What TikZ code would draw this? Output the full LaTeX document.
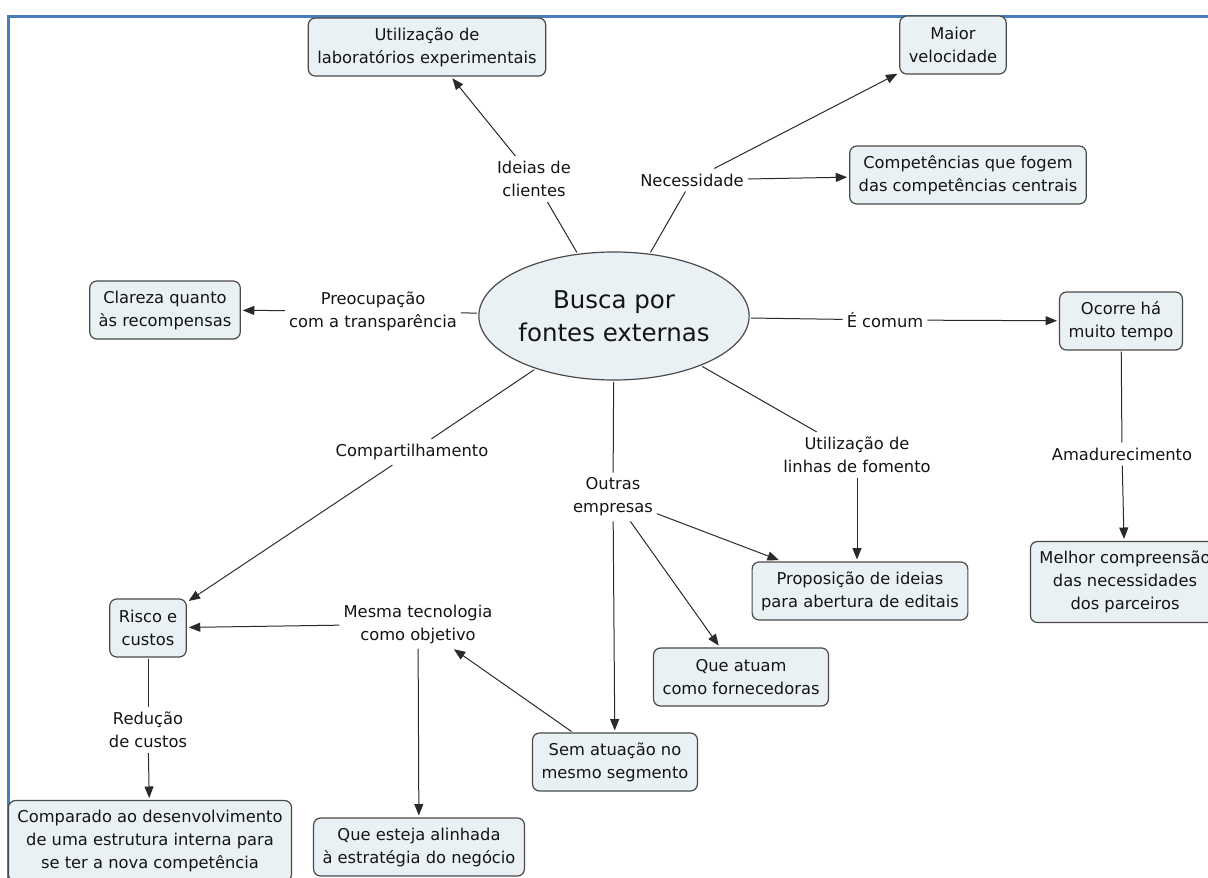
\documentclass[tikz,border=0pt]{standalone}
\usepackage{fontspec}
\setmainfont{DejaVu Sans}
\usetikzlibrary{shapes.geometric,arrows.meta}
\definecolor{framec}{HTML}{4A7EBB}
\definecolor{boxfill}{HTML}{EAF1F5}
\definecolor{boxline}{HTML}{4A4A4A}
\definecolor{linec}{HTML}{2A2A2A}
\definecolor{txt}{HTML}{141414}

\begin{document}
\begin{tikzpicture}[x=1pt,y=-1pt,
  concept/.style={draw=boxline, fill=boxfill, line width=1.2pt, rounded corners=7pt,
    align=center, text=txt, font=\fontsize{16.3}{23}\selectfont,
    inner xsep=9pt, inner ysep=0pt, minimum height=58pt, outer sep=1.5pt},
  tall/.style={minimum height=81pt},
  linklbl/.style={align=center, text=txt, font=\fontsize{16.3}{23}\selectfont,
    inner xsep=4pt, inner ysep=5pt},
  conn/.style={draw=linec, line width=1pt},
  arr/.style={conn, -{Triangle[length=11.5pt,width=9pt]}, shorten >=1pt},
]
\useasboundingbox (0,0) rectangle (1208,878);
\clip (0,0) rectangle (1208,878);

% page frame
\draw[framec, line width=3pt] (8,878) -- (8,16) -- (1208,16);

% central concept
\node[draw=boxline, fill=boxfill, line width=1.2pt, ellipse, minimum width=235pt,
  minimum height=128pt, inner sep=0pt, outer sep=2pt, align=center, text=txt,
  font=\fontsize{24.5}{33}\selectfont] (ell) at (614,316) {Busca por\\fontes externas};

% concepts
\node[concept] (lab)  at (427,47)  {Utilização de\\laboratórios experimentais};
\node[concept] (vel)  at (953,45)  {Maior\\velocidade};
\node[concept] (comp) at (968,175) {Competências que fogem\\das competências centrais};
\node[concept] (clar) at (165,310) {Clareza quanto\\às recompensas};
\node[concept] (ocor) at (1121,321) {Ocorre há\\muito tempo};
\node[concept, tall] (melh) at (1125,582) {Melhor compreensão\\das necessidades\\dos parceiros};
\node[concept] (prop) at (860,591) {Proposição de ideias\\para abertura de editais};
\node[concept] (forn) at (741,677) {Que atuam\\como fornecedoras};
\node[concept] (sem)  at (615,762) {Sem atuação no\\mesmo segmento};
\node[concept] (alin) at (419,847) {Que esteja alinhada\\à estratégia do negócio};
\node[concept] (risc) at (148,628) {Risco e\\custos};
\node[concept, tall] (cmpd) at (150,841) {Comparado ao desenvolvimento\\de uma estrutura interna para\\se ter a nova competência};

% linking phrases
\node[linklbl] (lIde) at (534,179) {Ideias de\\clientes};
\node[linklbl] (lNec) at (692,180) {Necessidade};
\node[linklbl] (lPre) at (373,311) {Preocupação\\com a transparência};
\node[linklbl] (lCom) at (885,320) {É comum};
\node[linklbl] (lCmp) at (412,452) {Compartilhamento};
\node[linklbl] (lOut) at (613,497) {Outras\\empresas};
\node[linklbl] (lUti) at (857,455) {Utilização de\\linhas de fomento};
\node[linklbl] (lAma) at (1122,454) {Amadurecimento};
\node[linklbl] (lMes) at (418,624) {Mesma tecnologia\\como objetivo};
\node[linklbl] (lRed) at (148,730) {Redução\\de custos};

% connections
\draw[conn] (ell) -- (lIde);
\draw[arr]  (lIde) -- (lab);
\draw[conn] (ell) -- (lNec);
\draw[arr]  (lNec) -- (vel);
\draw[arr]  (lNec) -- (comp);
\draw[conn] (ell) -- (lPre);
\draw[arr]  (lPre) -- (clar);
\draw[conn] (ell) -- (lCom);
\draw[arr]  (lCom) -- (ocor);
\draw[conn] (ocor) -- (lAma);
\draw[arr]  (lAma) -- (melh);
\draw[conn] (ell) -- (lCmp);
\draw[arr]  (lCmp) -- (risc);
\draw[conn] (ell) -- (lOut);
\draw[arr]  (lOut) -- (prop);
\draw[arr]  (lOut) -- (forn);
\draw[arr]  (lOut) -- (sem);
\draw[conn] (ell) -- (lUti);
\draw[arr]  (lUti) -- (lUti |- prop.north);
\draw[arr]  (sem) -- (lMes);
\draw[arr]  (lMes) -- (risc);
\draw[arr]  (lMes) -- (alin);
\draw[conn] (risc) -- (lRed);
\draw[arr]  (lRed) -- (cmpd);
\end{tikzpicture}
\end{document}
